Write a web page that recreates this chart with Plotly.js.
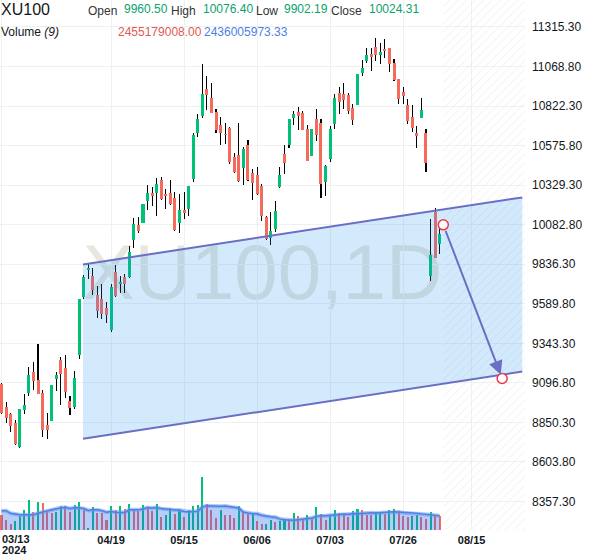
<!DOCTYPE html>
<html><head><meta charset="utf-8">
<script src="https://cdn.plot.ly/plotly-3.0.1.min.js"></script>
<style>html,body{margin:0;padding:0;background:#fff}#chart{width:600px;height:558px}</style>
</head><body><div id="chart"></div>
<script>
const symbol = 'XU100';
const interval = '1D';
const openP = [9089,8944,8902,8844,8694,8927,9033,9166,9114,9033,
8834,8861,9120,9238,9189,8983,8946,9272,9631,9801,
9762,9645,9618,9562,9427,9791,9712,9757,9757,9988,
10079,10096,10231,10278,10283,10359,10272,10278,10247,10092,
10175,10183,10366,10652,10760,10928,10870,10785,10702,10650,
10687,10505,10515,10434,10577,10403,10390,10324,10131,10000,
10054,10318,10525,10577,10745,10787,10777,10677,10511,10739,
10714,10349,10494,10712,10905,10899,10889,10812,10829,11026,
11103,11150,11192,11140,11179,11182,11092,10989,10910,10827,
10754,10656,10750,10656,9764,10162,9960.50];
const highP = [9095,8975,8910,8867,8935,9025,9193,9224,9338,9052,
8906,9085,9162,9255,9270,9016,9168,9620,9768,9842,
9815,9701,9716,9598,9716,9830,9764,9774,9950,10127,
10133,10212,10328,10320,10376,10382,10303,10361,10287,10272,
10287,10326,10656,10770,11086,11010,10968,10806,10756,10719,
10690,10532,10719,10569,10611,10428,10445,10335,10135,10164,
10231,10445,10577,10741,10791,10818,10791,10704,10679,10806,
10744,10452,10698,10895,10943,10964,10905,10833,11022,11109,
11186,11186,11248,11217,11242,11186,11117,10992,10943,10868,
10827,10698,10874,10681,10117,10185,10076.40];
const lowP = [8900,8846,8792,8712,8690,8902,9016,9050,9025,8759,
8748,8858,9047,8960,9000,8898,8935,9245,9622,9743,
9645,9504,9494,9473,9415,9630,9660,9660,9749,9940,
10033,10094,10175,10200,10137,10236,10179,10205,10045,10034,
10121,10137,10349,10629,10746,10800,10776,10652,10577,10584,
10459,10405,10350,10328,10355,10237,10268,10106,9985,9957,
10040,10314,10397,10563,10704,10673,10670,10478,10508,10604,
10251,10262,10474,10681,10775,10806,10770,10704,10826,11009,
11088,11040,11103,11082,11123,11034,10980,10833,10833,10708,
10660,10563,10745,10411,9732,9875,9902.19];
const closeP = [8908,8877,8829,8715,8933,8958,9145,9108,9027,8805,
8805,9083,9145,9151,9041,8940,9130,9618,9757,9813,
9676,9546,9525,9521,9695,9639,9726,9712,9915,10085,
10044,10210,10278,10262,10335,10241,10262,10210,10050,10175,
10156,10324,10642,10739,10895,10891,10781,10671,10652,10645,
10474,10411,10355,10552,10359,10345,10272,10137,9992,10044,
10168,10390,10469,10739,10770,10760,10673,10480,10677,10642,
10335,10449,10681,10870,10849,10860,10791,10735,11020,11061,
11138,11128,11138,11159,11165,11082,10984,10864,10885,10729,
10683,10636,10797,10470,9892,9878,10024.31];
// volume in billions
const volume = [2.68,1.75,1.11,1.58,2.51,3.51,5.26,3.16,4.91,4.74,
3.21,2.98,3.21,4.21,4.21,3.21,4.44,4.91,3.51,0.3,
4.03,2.98,2.98,1.75,4.21,3.51,4.21,3.68,4.56,3.51,
3.39,4.39,4.03,3.39,4.56,2.28,2.68,3.86,2.86,3.39,
2.33,3.51,4.21,4.44,9.30,4.56,3.51,2.10,3.51,2.68,
2.63,2.16,4.21,3.16,2.81,2.98,1.58,1.11,1.11,1.75,
1.46,1.63,1.93,1.75,2.98,2.51,1.93,2.63,2.16,4.03,
2.81,1.75,2.63,3.51,2.98,2.68,2.28,3.33,3.68,3.51,
2.63,2.63,3.16,3.16,2.81,3.51,3.68,3.33,2.46,2.28,
2.51,2.63,2.28,1.93,3.16,2.63,2.455179008];
const volumeUp = [0,0,0,1,1,1,1,0,1,0, 0,0,1,1,0,0,1,1,0,1,
1,0,0,0,1,0,1,0,1,0, 0,1,0,0,1,0,1,1,0,1,
0,1,1,1,1,0,0,0,1,0, 0,0,1,0,0,1,0,0,1,1,
0,1,1,0,1,0,0,1,0,1, 0,0,1,1,0,0,0,1,1,0,
0,0,1,1,0,1,1,0,0,0, 1,1,0,0,1,0,0];
const volMAHead = [3.39,3.39,2.93,2.75,2.68,2.68,2.68,2.68];
const maPeriod = 9;
const legendVolume = '2455179008.00';
const legendVolMA = '2436005973.33';
const tickIndex = [0,24,40,56,72,88,103];
const tickLabels = ['03/13','04/19','05/15','06/06','07/03','07/26','08/15'];
const yearLabel = '2024';
// user drawings (bar index, price)
const channelX = [17.86,114.1];
const channelUpper = [9835,10253];
const channelLower = [8748,9167];
const projectionX = [96.8,109.7];
const projectionY = [10082,9124];

const UP='#00c176', DOWN='#f46b5e', DRAW='#6b6fc4';
const n = closeP.length;
const idx = closeP.map((_,i)=>i);
const volMA = volume.map((v,i)=>{
  if(i<maPeriod-1) return volMAHead[i];
  let s=0; for(let k=i-maPeriod+1;k<=i;k++) s+=volume[k]; return s/maPeriod;
});
const xMin=-0.33, xMax=114.7;
const hatchStart = (n-1)+0.8;

const traces = [
 {type:'bar', x:idx, base:lowP, y:highP.map((h,i)=>h-lowP[i]), width:0.24,
  marker:{color:'#000',line:{width:0}}, hoverinfo:'skip'},
 {type:'bar', x:idx, base:openP.map((o,i)=>Math.min(o,closeP[i])),
  y:openP.map((o,i)=>Math.max(Math.abs(closeP[i]-o),6)), width:0.66,
  marker:{color:closeP.map((c,i)=>c>=openP[i]?UP:DOWN),line:{width:0}}, hoverinfo:'skip'},
 {type:'bar', x:idx, y:volume, yaxis:'y2', width:0.45,
  marker:{color:volumeUp.map(u=>u?UP:DOWN),line:{width:0}}, hoverinfo:'skip'},
 {type:'scatter', mode:'lines', x:idx, y:volMA, yaxis:'y2', fill:'tozeroy',
  fillcolor:'rgba(50,110,235,0.35)', line:{color:'rgba(110,155,240,0.55)',width:4}, hoverinfo:'skip'},
 {type:'scatter', mode:'lines', x:idx, y:volMA, yaxis:'y2',
  line:{color:'#4d80e4',width:1.5}, hoverinfo:'skip'},
 {type:'bar', x:[(hatchStart+xMax)/2], y:[1], base:[0], width:[xMax-hatchStart], yaxis:'y3',
  marker:{color:'rgba(255,255,255,0)',line:{width:0},
   pattern:{shape:'/',fgcolor:'#e6e6e6',bgcolor:'rgba(255,255,255,0)',size:6,solidity:0.1,fillmode:'replace'}},
  hoverinfo:'skip'}
];

const H = 530.5, W = 525;
const px = v => v/W, py = v => 1 - v/H;
const ann = (text,x,y,size,color,extra) => Object.assign({text:text, xref:'paper', yref:'paper',
  x:px(x), y:py(y), xanchor:'left', yanchor:'middle', showarrow:false,
  font:{family:'Arial, Liberation Sans, sans-serif', size:size, color:color}}, extra||{});

const G='#0aa36a';
const annotations = [
 ann(symbol, -1, 10, 16, '#131722'),
 ann('Open', 86, 11, 12, '#333'),
 ann(openP[n-1].toFixed(2), 122, 9, 12, G),
 ann('High', 169, 11, 12, '#333'),
 ann(highP[n-1].toFixed(2), 201, 9, 12, G),
 ann('Low', 254, 11, 12, '#333'),
 ann(lowP[n-1].toFixed(2), 282, 9, 12, G),
 ann('Close', 329, 11, 12, '#333'),
 ann(closeP[n-1].toFixed(2), 367, 9, 12, G),
 ann('Volume <i>(9)</i>', -1, 32, 12, '#131722'),
 ann(legendVolume, 116, 32, 12, '#e05a52'),
 ann(legendVolMA, 202, 32, 12, '#4a7fe6'),
 ann(tickLabels[0], 0, 540, 11, '#131722', {font:{family:'Arial, Liberation Sans, sans-serif', size:11, color:'#131722', weight:'bold'}}),
 ann(yearLabel, 0, 551, 11, '#131722', {font:{family:'Arial, Liberation Sans, sans-serif', size:11, color:'#131722', weight:'bold'}}),
 {x:projectionX[1], y:projectionY[1], ax:projectionX[0], ay:projectionY[0], xref:'x', yref:'y', axref:'x', ayref:'y',
  showarrow:true, text:'', arrowhead:2, arrowsize:1.4, arrowwidth:2, arrowcolor:DRAW, standoff:4, startstandoff:5}
];

const shapes = [
 {type:'rect', xref:'paper', yref:'paper', x0:0, x1:1, y0:0, y1:1, layer:'below',
  line:{width:0}, fillcolor:'rgba(0,0,0,0)',
  label:{text:symbol+','+interval, textposition:'middle center',
   font:{family:'Arial, Liberation Sans, sans-serif', size:78, color:'rgba(150,140,100,0.22)'}}},
 {type:'path', xref:'x', yref:'y', layer:'above', line:{width:0}, fillcolor:'rgba(33,150,243,0.2)',
  path:`M ${channelX[0]} ${channelUpper[0]} L ${channelX[1]} ${channelUpper[1]} L ${channelX[1]} ${channelLower[1]} L ${channelX[0]} ${channelLower[0]} Z`},
 {type:'line', xref:'x', yref:'y', layer:'above', x0:channelX[0], x1:channelX[1], y0:channelUpper[0], y1:channelUpper[1], line:{color:DRAW,width:2}},
 {type:'line', xref:'x', yref:'y', layer:'above', x0:channelX[0], x1:channelX[1], y0:channelLower[0], y1:channelLower[1], line:{color:DRAW,width:2}}
];
projectionX.forEach((x,k)=>shapes.push({type:'circle', xref:'x', yref:'y', xsizemode:'pixel', ysizemode:'pixel',
  xanchor:x, yanchor:projectionY[k], x0:-5, x1:5, y0:-5, y1:5, layer:'above',
  line:{color:'#f23645',width:1.5}, fillcolor:'#ffffff'}));

const layout = {
 width:600, height:558, margin:{l:0, r:75, t:0, b:27.5},
 paper_bgcolor:'#fff', plot_bgcolor:'#fff', showlegend:false, barmode:'overlay', bargap:0,
 xaxis:{range:[xMin,xMax], tickmode:'array', tickvals:tickIndex, ticktext:tickLabels.map((t,i)=>i===0?'':t),
  showgrid:true, gridcolor:'#f0f0f0', gridwidth:1, zeroline:false, showline:false, ticks:'', ticklabelstandoff:2,
  tickfont:{family:'Arial, Liberation Sans, sans-serif', size:11, color:'#131722', weight:'bold'}, fixedrange:true},
 yaxis:{side:'right', range:[8179.5,11483.5], tickmode:'linear', tick0:8357.3, dtick:246.5, tickformat:'.2f',
  showgrid:true, gridcolor:'#f0f0f0', gridwidth:1, zeroline:false, showline:false, ticks:'', ticklabelstandoff:6,
  tickfont:{family:'Arial, Liberation Sans, sans-serif', size:12, color:'#131722'}, fixedrange:true},
 yaxis2:{overlaying:'y', range:[0,93.05], visible:false, fixedrange:true},
 yaxis3:{overlaying:'y', range:[0,1], visible:false, fixedrange:true},
 shapes:shapes, annotations:annotations, hovermode:false
};
Plotly.newPlot('chart', traces, layout, {staticPlot:true, displayModeBar:false});
</script></body></html>
